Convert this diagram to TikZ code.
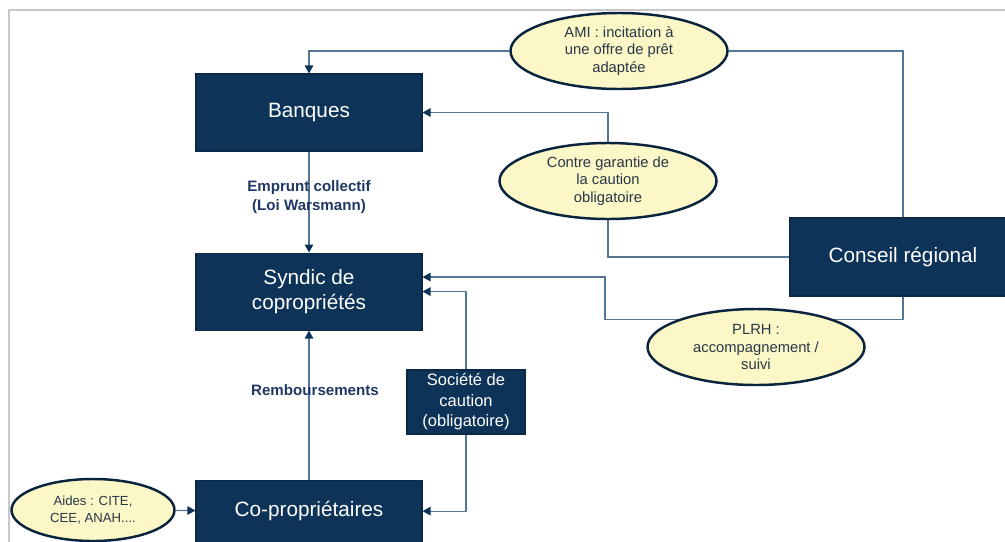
\documentclass[tikz,border=0pt]{standalone}
\usepackage{fontspec}
\setmainfont{Liberation Sans}
\usetikzlibrary{arrows.meta,positioning,shapes.geometric,backgrounds}
\definecolor{navy}{RGB}{14,51,89}
\definecolor{linkblue}{RGB}{84,118,150}
\definecolor{lemon}{RGB}{251,247,198}
\definecolor{inkdark}{RGB}{40,55,72}
\definecolor{labnavy}{RGB}{31,56,100}
\definecolor{framegrey}{RGB}{200,200,200}

\begin{document}
\begin{tikzpicture}[
  >={Triangle[length=1.6mm,width=1.7mm]},
  actor/.style={draw=navy!80!black, line width=0.6pt, fill=navy, text=white, align=center,
    minimum width=4.52cm, minimum height=1.54cm, inner sep=2pt,
    font=\fontsize{11.8}{14.2}\selectfont},
  bubble/.style={ellipse, draw=navy!70!black, line width=1.4pt, fill=lemon, text=inkdark,
    align=center, inner sep=0pt, minimum width=4.34cm, minimum height=1.52cm,
    font=\fontsize{8.4}{10}\selectfont},
  link/.style={draw=linkblue, line width=0.7pt},
  arr/.style={link, ->, arrows={-Triangle[length=1.6mm,width=1.7mm,fill=navy,color=navy]}},
  lab/.style={font=\fontsize{8.6}{11.2}\selectfont\bfseries, text=labnavy, align=center}
]
\useasboundingbox (0,0) rectangle (20.1,-10.82);

\node[actor] (banques) at (6.18,-2.25) {Banques};
\node[actor, below=2.02cm of banques] (syndic) {Syndic de\\ copropriétés};
\node[actor, below=2.98cm of syndic, minimum height=1.24cm] (copro) {Co-propriétaires};
\node[actor, minimum width=2.36cm, minimum height=1.28cm,
  font=\fontsize{9.4}{11.6}\selectfont] (societe) at (9.32,-8.04) {Société de\\ caution\\ (obligatoire)};
\node[actor, minimum height=1.56cm] (conseil) at (18.06,-5.14) {Conseil régional};

\node[bubble] (ami) at (12.38,-1.02) {AMI : incitation à\\ une offre de prêt\\ adaptée};
\node[bubble] (contre) at (12.16,-3.62) {Contre garantie de\\ la caution\\ obligatoire};
\node[bubble] (plrh) at (15.12,-6.94) {PLRH :\\ accompagnement /\\ suivi};
\node[bubble, minimum width=3.26cm, minimum height=1.24cm,
  font=\fontsize{7.5}{10}\selectfont] (aides) at (1.86,-10.2) {Aides : CITE,\\ CEE, ANAH....};

\begin{scope}[on background layer]
\draw[line width=1.1pt, draw=framegrey] (0.18,-11) |- (20.3,-0.2);
\draw[link] (conseil.north) |- (ami.east);
\draw[arr] (ami.west) -| (banques.north);
\draw[link] (conseil.west) -| (contre.south);
\draw[arr] (contre.north) |- (banques.east);
\draw[arr] (conseil.south) -- ++(0,-0.46) -- ++(-5.96,0) |- ([yshift=0.29cm]syndic.east);
\end{scope}

\draw[arr] (banques) -- node[lab, pos=0.45]{Emprunt collectif\\ (Loi Warsmann)} (syndic);
\draw[arr] (copro) -- node[lab, pos=0.6, xshift=0.12cm]{Remboursements} (syndic);
\draw[arr] (societe.north) |- (syndic.east);
\draw[arr] (societe.south) |- (copro.east);
\draw[arr] (aides) -- (copro);
\end{tikzpicture}
\end{document}
